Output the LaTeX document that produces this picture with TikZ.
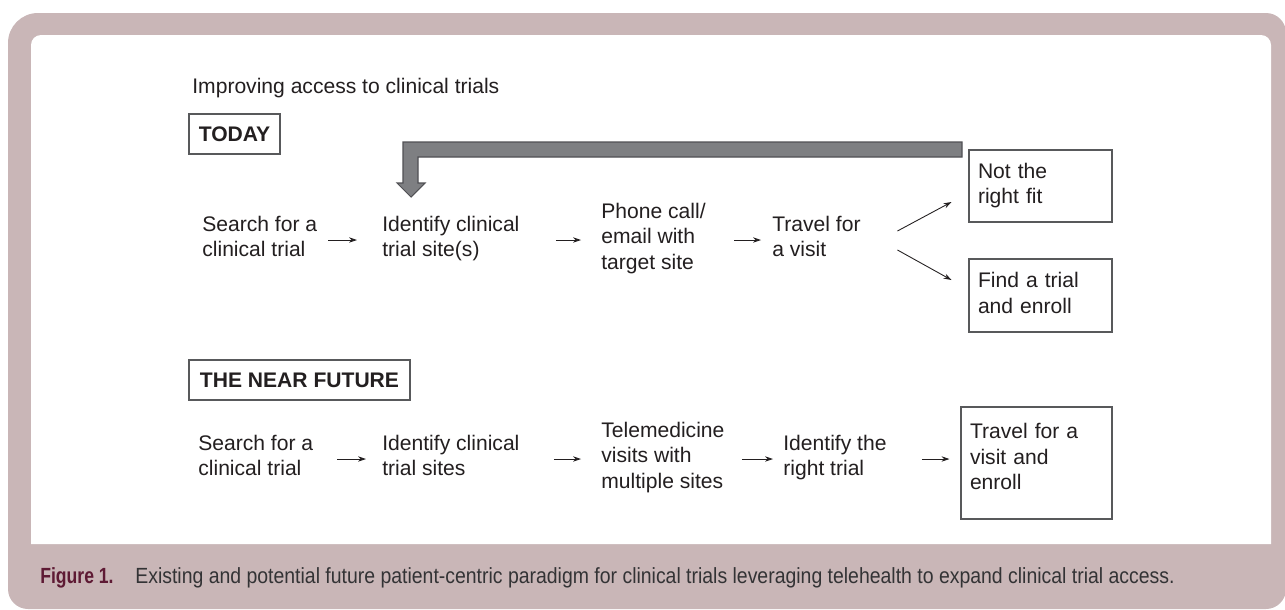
\documentclass[tikz,border=0pt]{standalone}
\usepackage{fontspec}
\setmainfont{Liberation Sans}
\newfontfamily\caplabelfont[FakeStretch=0.80]{Liberation Sans}
\newfontfamily\capfont[FakeStretch=0.885]{Liberation Sans}
\usetikzlibrary{arrows.meta}
\definecolor{framegray}{RGB}{201,182,183}
\definecolor{inkblack}{RGB}{35,31,32}
\definecolor{linegray}{RGB}{88,89,91}
\definecolor{bargray}{RGB}{126,127,130}
\definecolor{bardark}{RGB}{80,80,84}
\definecolor{capred}{RGB}{94,26,52}
\definecolor{capgray}{RGB}{51,51,53}

\begin{document}
\begin{tikzpicture}[x=0.02cm,y=-0.02cm,
		txt/.style={anchor=west,align=left,inner sep=0pt,text=inkblack,font=\fontsize{12}{14.5}\selectfont,
			execute at begin node=\strut,execute at end node=\strut},
		headbox/.style={draw=linegray,line width=0.6pt,text=inkblack,font=\fontsize{12}{14.5}\selectfont\bfseries,
			minimum height=0.8cm,inner sep=0pt},
		resbox/.style={draw=linegray,line width=0.6pt,text=inkblack,align=left,inner xsep=0.18cm,inner ysep=0pt,
			font=\fontsize{12}{14.5}\selectfont,execute at begin node=\strut},
		arr/.style={-{Stealth[length=4.5pt,width=3pt]},line width=0.5pt,draw=inkblack}]
		\useasboundingbox (0,0) rectangle (1285,609);
	
		% frame
		\fill[framegray] (8,300) [rounded corners=0.6cm] -- (8,13) [rounded corners=0.4cm] -- (1286,13) -- (1286,609) -- (8,609) -- cycle;
		\fill[white] (31,544) [rounded corners=0.2cm] -- (31,35) -- (1271,35) [sharp corners] -- (1271,544) -- cycle;
		
		\node[txt,anchor=base west] (title) at (192,93) {Improving access to clinical trials};
		
		% today
		\node[headbox,minimum width=1.82cm] (today) at (234.5,134) {TODAY};
		
		\node[txt] (search1) at (202,240) {Search for a\\clinical trial};
		\node[txt] (ident1) at (382,240) {Identify clinical\\trial site(s)};
		\node[txt] (phone1) at (601,240) {Phone call/\\email with\\target site};
		\node[txt] (travel1) at (772,240) {Travel for\\a visit};
		
		\node[resbox,text width=2.5cm,minimum height=1.44cm] (fit1) at (1040.5,186) {Not the\\right fit\strut};
		\node[resbox,text width=2.5cm,minimum height=1.46cm] (enroll1) at (1040.5,295.5) {Find a trial\\and enroll\strut};
		
		\draw[arr,shorten <=0.21cm,shorten >=0.50cm] (search1.east) -- (search1.east -| ident1.west);
		\draw[arr,shorten <=0.72cm,shorten >=0.40cm] (ident1.east) -- (ident1.east -| phone1.west);
		\draw[arr,shorten <=0.56cm,shorten >=0.22cm] (phone1.east) -- (phone1.east -| travel1.west);
		
		\draw[arr] ([shift={(36.5,-9)}]travel1.east) -- ([shift={(-17,16)}]fit1.west);
		\draw[arr] ([shift={(36.5,10)}]travel1.east) -- ([shift={(-17,-15.5)}]enroll1.west);
		
		% loop back
		\filldraw[fill=bargray,draw=bardark,line width=0.6pt] (962,142) -- (403,142) -- (403,183) -- (397,183) -- (411,197)
			-- (425,183) -- (418,183) -- (418,157) -- (962,157) -- cycle;
		
		% near future
		\node[headbox,minimum width=4.42cm] (future) at (299.5,380) {THE NEAR FUTURE};
		
		\node[txt] (search2) at (198,459) {Search for a\\clinical trial};
		\node[txt] (ident2) at (382,459) {Identify clinical\\trial sites};
		\node[txt] (tele2) at (601,459) {Telemedicine\\visits with\\multiple sites};
		\node[txt] (right2) at (783,459) {Identify the\\right trial};
		
		\node[resbox,text width=2.66cm,minimum height=2.24cm] (enroll2) at (1036.5,463) {Travel for a\\visit and\\enroll\rule[-8.9pt]{0pt}{0pt}};
		
		\draw[arr,shorten <=0.47cm,shorten >=0.32cm] (search2.east) -- (search2.east -| ident2.west);
		\draw[arr,shorten <=0.68cm,shorten >=0.40cm] (ident2.east) -- (ident2.east -| tele2.west);
		\draw[arr,shorten <=0.34cm,shorten >=0.20cm] (tele2.east) -- (tele2.east -| right2.west);
		\draw[arr,shorten <=0.70cm,shorten >=0.22cm] (right2.east) -- (right2.east -| enroll2.west);
		
		% caption
		\node[anchor=base west,inner sep=0pt,text=capred,font=\caplabelfont\fontsize{12.5}{15}\selectfont\bfseries] (figlabel) at (40,583) {Figure 1.};
		\node[anchor=base west,inner sep=0pt,text=capgray,font=\capfont\fontsize{12.5}{15}\selectfont] (captext) at (135,583)
			{Existing and potential future patient-centric paradigm for clinical trials leveraging telehealth to expand clinical trial access.};
	\end{tikzpicture}
\end{document}
